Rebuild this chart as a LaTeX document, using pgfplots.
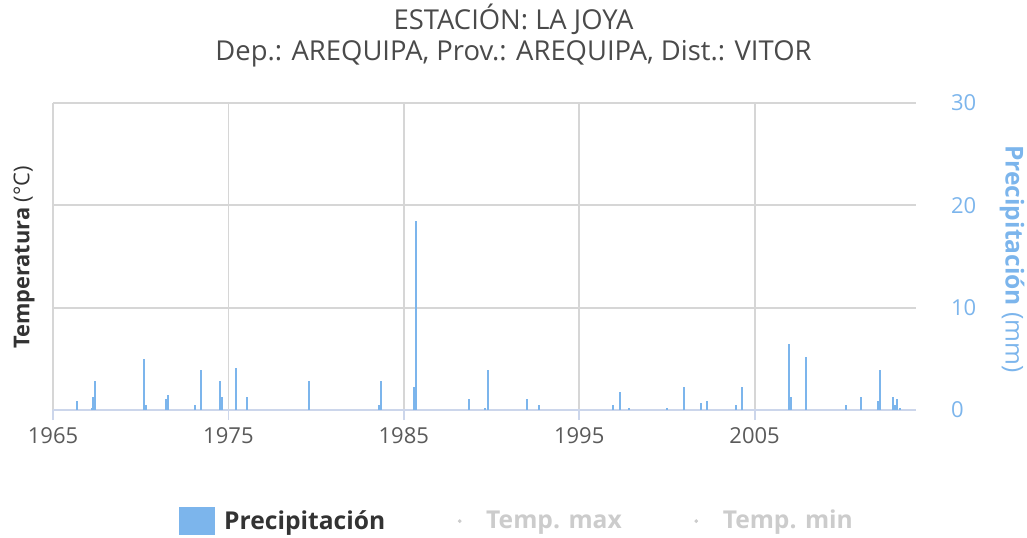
\documentclass[border=0pt]{standalone}
\usepackage{pgfplots}
\pgfplotsset{compat=1.18}
\usepackage{fontspec}
\setmainfont{Open Sans}
\definecolor{barblue}{HTML}{7CB5EC}
\definecolor{gridc}{HTML}{D6D6D6}
\definecolor{axisc}{HTML}{CCD6EB}
\definecolor{titlec}{HTML}{4A4A4A}
\definecolor{tickc}{HTML}{5A5A5A}
\definecolor{legc}{HTML}{333333}
\definecolor{hidc}{HTML}{CCCCCC}

\pgfplotstableread{
year prec
1966.35 0.9
1967.20 0.2
1967.30 1.3
1967.42 2.85
1970.20 4.95
1970.30 0.45
1971.45 1.1
1971.57 1.5
1973.10 0.45
1973.45 3.9
1974.50 2.8
1974.62 1.3
1975.45 4.1
1976.05 1.3
1979.60 2.8
1983.60 0.45
1983.72 2.8
1985.60 2.2
1985.72 18.5
1988.70 1.1
1989.65 0.2
1989.78 3.9
1992.05 1.1
1992.68 0.45
1996.90 0.45
1997.30 1.75
1997.82 0.2
2000.00 0.2
2001.00 2.2
2001.95 0.7
2002.30 0.9
2003.92 0.45
2004.30 2.2
2006.95 6.45
2007.07 1.3
2007.90 5.2
2010.20 0.45
2011.05 1.3
2012.05 0.9
2012.17 3.9
2012.90 1.3
2013.00 0.45
2013.13 1.1
2013.30 0.2
}\prectable

\begin{document}
\begin{tikzpicture}
\path[use as bounding box] (-26.5pt,-63.5pt) rectangle (487pt,205pt);
\begin{axis}[
  scale only axis, width=431.5pt, height=153.5pt,
  xmin=1965, xmax=2014.2, ymin=0, ymax=30,
  axis x line*=bottom, axis y line*=right,
  y axis line style={draw=none},
  x axis line style={axisc, line width=0.9pt, -},
  xtick={1965,1975,1985,1995,2005},
  xticklabels={1965,1975,1985,1995,2005},
  xtick align=outside,
  major x tick style={axisc, line width=0.9pt},
  major tick length=5pt,
  ytick={0,10,20,30},
  yticklabels={0,10,20,30},
  major y tick style={draw=none},
  grid=major,
  major grid style={gridc, line width=0.9pt},
  xticklabel style={font=\fontsize{11}{13}\selectfont, text=tickc},
  yticklabel style={font=\fontsize{11}{13}\selectfont, text=barblue, anchor=west, xshift=14pt},
  legend style={at={(0.539,-0.362)}, anchor=center, draw=none, fill=none,
    legend columns=3, font=\bfseries\fontsize{12.3}{14}\selectfont,
    /tikz/every odd column/.append style={column sep=2.5pt},
    /tikz/every even column/.append style={column sep=26.5pt}},
]
\addplot[ycomb, barblue, line width=1pt, no marks, forget plot] table[x=year, y=prec] {\prectable};
\addlegendimage{legend image code/.code={\fill[barblue] (0pt,-6.75pt) rectangle (17.5pt,6.75pt);}}
\addlegendentry{\textcolor{legc}{Precipitación}}
\addlegendimage{legend image code/.code={\path[draw=none,fill=none] (0pt,-6.75pt) rectangle (17.5pt,6.75pt); \fill[hidc] (8.75pt,0pt) circle (0.7pt);}}
\addlegendentry{\textcolor{hidc}{Temp. max}}
\addlegendimage{legend image code/.code={\path[draw=none,fill=none] (0pt,-6.75pt) rectangle (17.5pt,6.75pt); \fill[hidc] (8.75pt,0pt) circle (0.7pt);}}
\addlegendentry{\textcolor{hidc}{Temp. min}}
\end{axis}
\node[anchor=base, font=\fontsize{13.7}{16}\selectfont, text=titlec] at (230.25pt,190.5pt) {ESTACIÓN: LA JOYA};
\node[anchor=base, font=\fontsize{13.7}{16}\selectfont, text=titlec] at (230.25pt,175pt) {Dep.: AREQUIPA, Prov.: AREQUIPA, Dist.: VITOR};
\node[rotate=90, font=\fontsize{10.9}{13}\selectfont, text=legc] at (-14.5pt,76.25pt) {\textbf{Temperatura} (°C)};
\node[rotate=-90, font=\fontsize{12.3}{14}\selectfont, text=barblue] at (479.5pt,75.5pt) {\textbf{Precipitación} (mm)};
\end{tikzpicture}
\end{document}
